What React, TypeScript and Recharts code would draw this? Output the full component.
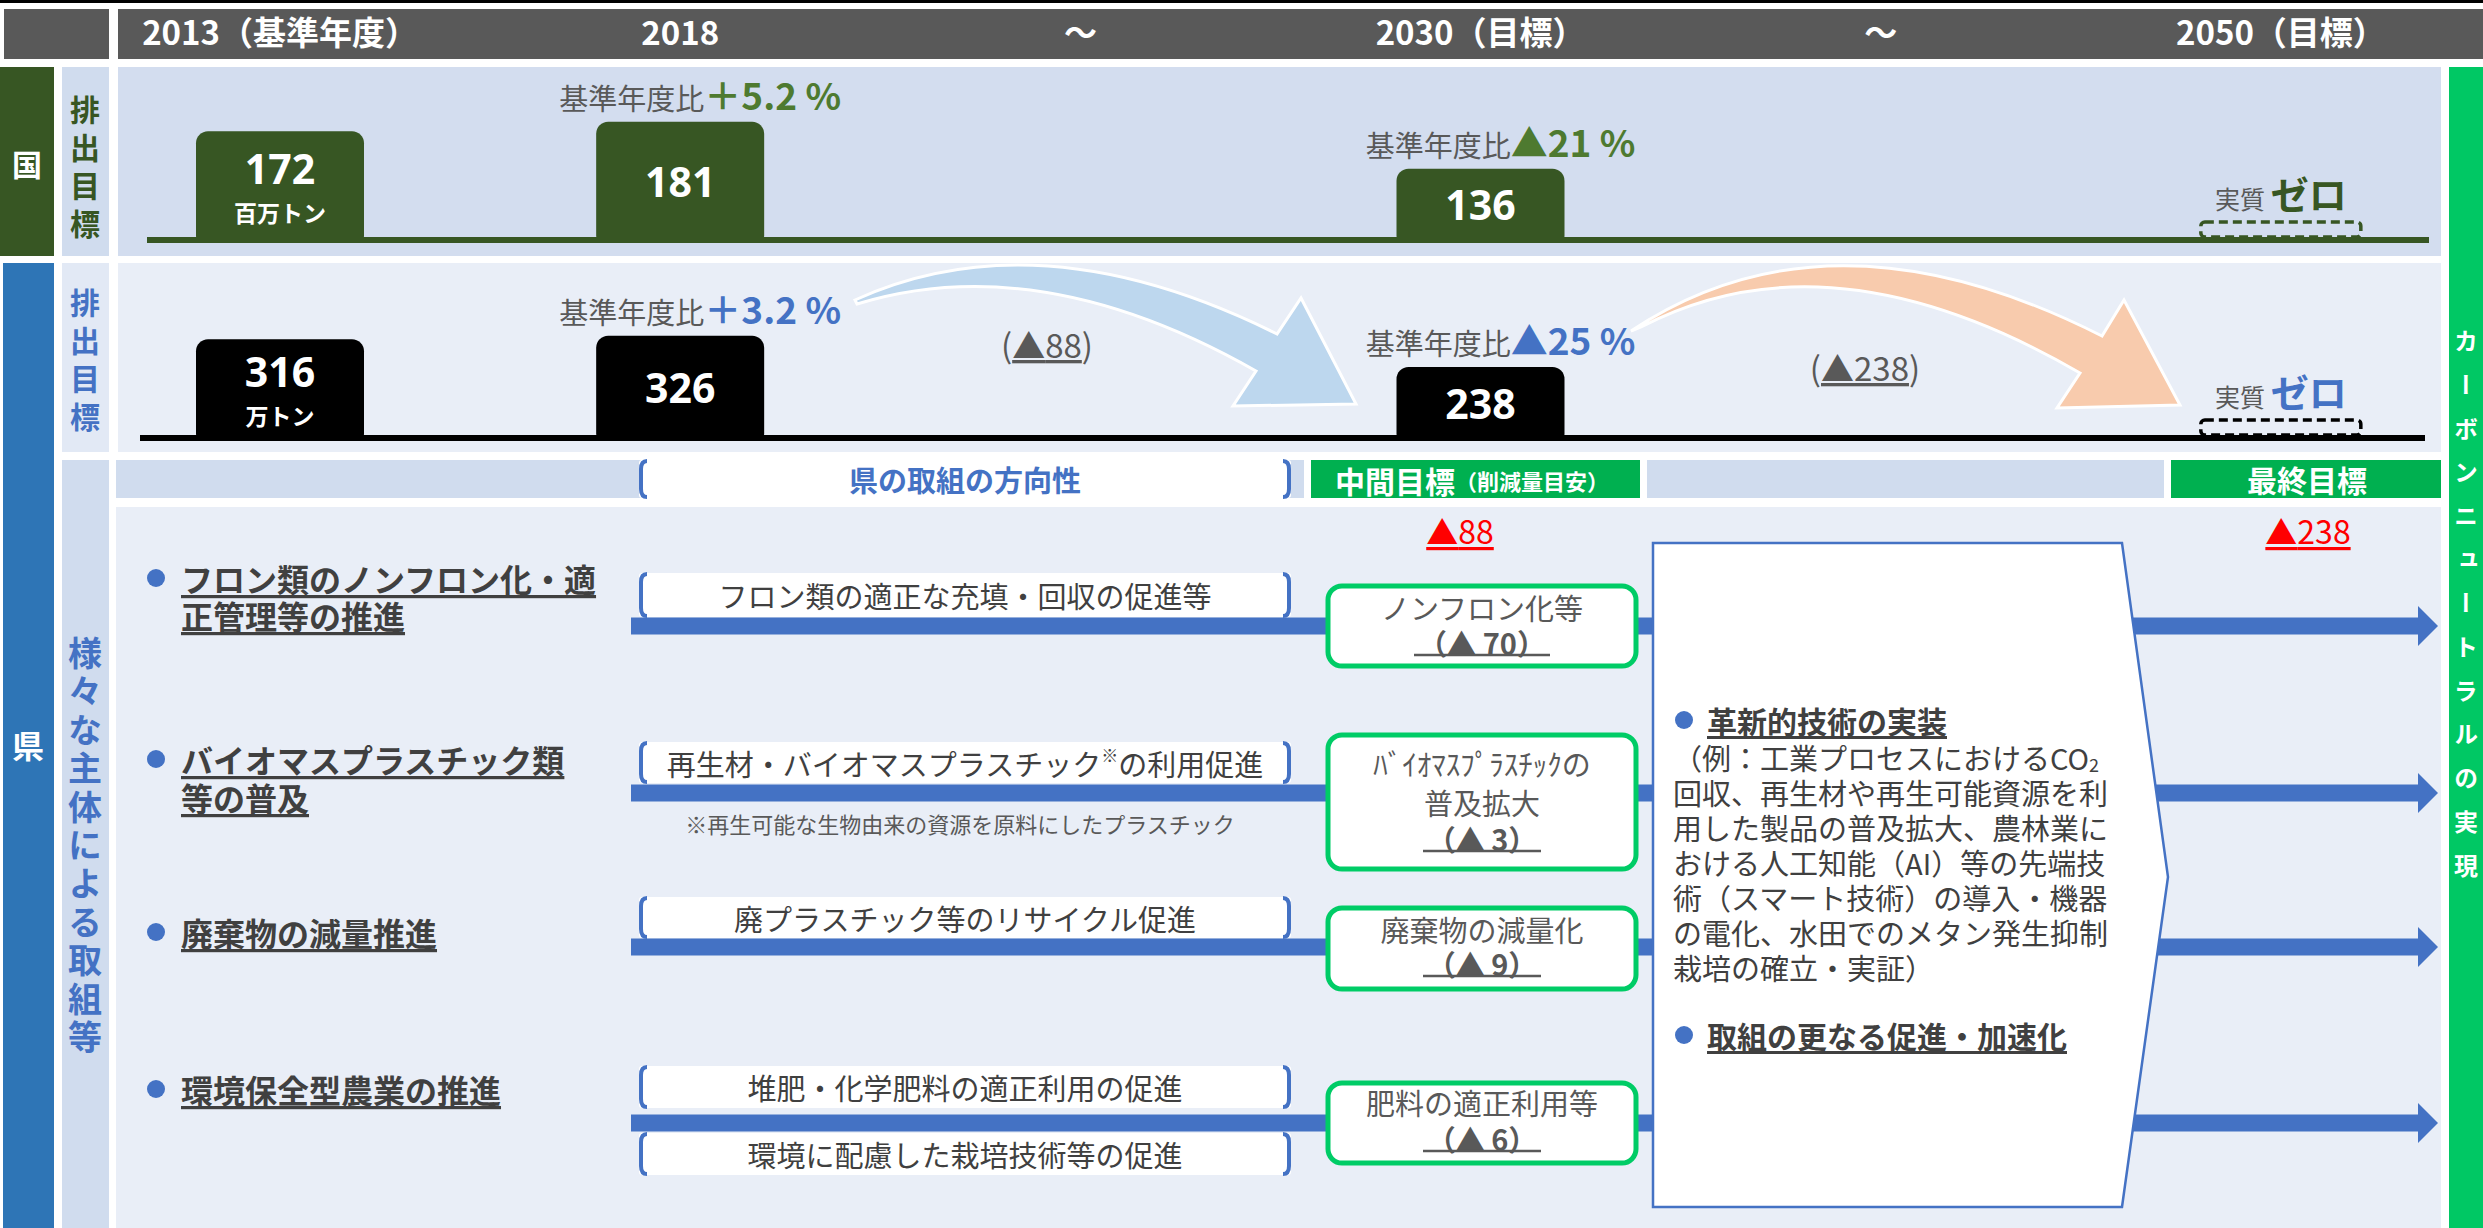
import React from 'react';
import { BarChart, Bar, XAxis, YAxis, LabelList, Rectangle } from 'recharts';

const FONT = '"Noto Sans CJK JP", "Noto Sans", sans-serif';
const NUM_FONT = '"Noto Sans", "Noto Sans CJK JP", sans-serif';
const W = 2483;
const H = 1228;

// ---------- data ----------
const periodKeys = ['2013', '2018', 'gapA', '2030', 'gapB', '2050'];
const periodLabels = ['2013（基準年度）', '2018', '～', '2030（目標）', '～', '2050（目標）'];

const nationalEmissions = [172, 181, null, 136, null, 0]; // 百万トン
const nationalChange = ['', '＋5.2 %', '', '▲21 %', '', ''];
const prefEmissions = [316, 326, null, 238, null, 0]; // 万トン
const prefChange = ['', '＋3.2 %', '', '▲25 %', '', ''];
const unitLabels = ['百万トン', '万トン'];

const reductionToMid = 88;
const reductionToFinal = 238;

const measureTitles = [
  ['フロン類のノンフロン化・適', '正管理等の推進'],
  ['バイオマスプラスチック類', '等の普及'],
  ['廃棄物の減量推進'],
  ['環境保全型農業の推進'],
];
const measureActions = [
  ['フロン類の適正な充填・回収の促進等'],
  ['再生材・バイオマスプラスチック※の利用促進'],
  ['廃プラスチック等のリサイクル促進'],
  ['堆肥・化学肥料の適正利用の促進', '環境に配慮した栽培技術等の促進'],
];
const actionNote = '※再生可能な生物由来の資源を原料にしたプラスチック';
const midTargetNames = [
  ['ノンフロン化等'],
  ['ﾊﾞｲｵﾏｽﾌﾟﾗｽﾁｯｸの', '普及拡大'],
  ['廃棄物の減量化'],
  ['肥料の適正利用等'],
];
const midTargetValues = [70, 3, 9, 6];

const innovationTitle = '革新的技術の実装';
const innovationBody = [
  '（例：工業プロセスにおけるCO_2',
  '回収、再生材や再生可能資源を利',
  '用した製品の普及拡大、農林業に',
  'おける人工知能（AI）等の先端技',
  '術（スマート技術）の導入・機器',
  'の電化、水田でのメタン発生抑制',
  '栽培の確立・実証）',
];
const accelTitle = '取組の更なる促進・加速化';
const sideColumnText = 'カーボンニュートラルの実現';

// ---------- styles / layout ----------
const GRAY = '#595959';
const DARK = '#404040';
const NAT_GREEN = '#375623';
const NAT_ACCENT = '#4E7A30';
const BLUE = '#4472C4';
const PREF_BLUE = '#2E75B6';
const GREEN = '#00B050';
const BRIGHT = '#00C864';
const NAT_BG = '#D3DDEF';
const PREF_BG = '#E9EEF7';
const STRIP_BG = '#D0DCEE';

const rowLayout = [
  { titleY: [578, 615], lineY: 626, boxY: [[573, 617]], goalY: [586, 666], goalTextY: [607, 642] },
  { titleY: [759, 797], lineY: 793, boxY: [[742, 783]], goalY: [735, 869], goalTextY: [763, 802, 838] },
  { titleY: [932], lineY: 947, boxY: [[897, 938]], goalY: [908, 989], goalTextY: [929, 963] },
  { titleY: [1089], lineY: 1123, boxY: [[1066, 1108], [1133, 1175]], goalY: [1083, 1163], goalTextY: [1102, 1138] },
];

const nationalData = periodKeys.map((key, i) => ({ key, value: nationalEmissions[i], change: nationalChange[i] }));
const prefData = periodKeys.map((key, i) => ({ key, value: prefEmissions[i], change: prefChange[i] }));

// ---------- helpers ----------
// vertical (tategaki) text as one text run
const VText = ({ chars, x, y0, step, size, color, weight = 700 }: any) => (
  <text
    x={x}
    y={y0 - size / 2}
    fontSize={size}
    fontWeight={weight}
    fill={color}
    fontFamily={FONT}
    letterSpacing={step - size}
    style={{ writingMode: 'vertical-rl', textOrientation: 'mixed' } as any}
  >
    {chars}
  </text>
);

const BracketBox = ({ x, y, w, h }: any) => (
  <g>
    <rect x={x} y={y} width={w} height={h} fill="#fff" rx={3} />
    <path
      d={`M ${x + 8} ${y + 1} Q ${x + 2} ${y + 1} ${x + 2} ${y + 9} L ${x + 2} ${y + h - 9} Q ${x + 2} ${y + h - 1} ${x + 8} ${y + h - 1}`}
      fill="none"
      stroke={BLUE}
      strokeWidth={4}
    />
    <path
      d={`M ${x + w - 8} ${y + 1} Q ${x + w - 2} ${y + 1} ${x + w - 2} ${y + 9} L ${x + w - 2} ${y + h - 9} Q ${x + w - 2} ${y + h - 1} ${x + w - 8} ${y + h - 1}`}
      fill="none"
      stroke={BLUE}
      strokeWidth={4}
    />
  </g>
);

const withNote = (s: string) => {
  const parts = s.split('※');
  if (parts.length === 1) return s;
  return [
    <tspan key="a">{parts[0]}</tspan>,
    <tspan key="b" fontSize={17} dy={-9}>※</tspan>,
    <tspan key="c" dy={9}>{parts[1]}</tspan>,
  ];
};

const withSub = (s: string) => {
  const parts = s.split('_');
  if (parts.length === 1) return s;
  return [
    <tspan key="a">{parts[0]}</tspan>,
    <tspan key="b" fontSize={18} dy={7}>{parts[1]}</tspan>,
  ];
};

const renderHeaderTick = (props: any) => {
  const i = periodKeys.indexOf(props.payload?.value);
  return (
    <text x={props.x} y={45} textAnchor="middle" fill="#fff" fontSize={33} fontWeight={700} fontFamily={FONT}>
      {periodLabels[i]}
    </text>
  );
};

const makeBarShape = (dashColor: string) => (props: any) => {
  const { x, y, width, height, fill, payload } = props;
  if (payload == null || payload.value == null) return null;
  const base = y + height;
  if (payload.value === 0) {
    return (
      <rect x={x + 4} y={base - 18} width={width - 8} height={15} rx={4} fill="none" stroke={dashColor} strokeWidth={3.5} strokeDasharray="9 5" />
    );
  }
  return <Rectangle x={x} y={y} width={width} height={height} fill={fill} radius={[12, 12, 4, 4]} />;
};

const makeBarLabel = (values: (number | null)[], changes: string[], unit: string, accent: string, zeroColor: string) => (props: any) => {
  const vb = props.viewBox && props.viewBox.width != null ? props.viewBox : props;
  const { x, y, width, height } = vb;
  const value = props.value;
  if (value === null || value === undefined || x == null) return null;
  const index = values.indexOf(value);
  const cx = x + width / 2;
  const base = y + height;
  const top = Math.min(y, base);
  if (value === 0) {
    const boxTop = base - 18;
    return (
      <text x={cx} y={boxTop - 13} textAnchor="middle" fontFamily={FONT}>
        <tspan fontSize={25} fill={GRAY}>実質 </tspan>
        <tspan fontSize={38} fontWeight={700} fill={zeroColor}>ゼロ</tspan>
      </text>
    );
  }
  const mid = (top + base) / 2;
  const hasUnit = index === 0;
  const change = changes[index];
  return (
    <g>
      <text x={cx} y={hasUnit ? mid - 18 : mid} textAnchor="middle" dominantBaseline="central" fill="#fff" fontSize={41} fontWeight={700} fontFamily={NUM_FONT}>
        {value}
      </text>
      {hasUnit && (
        <text x={cx} y={mid + 26} textAnchor="middle" dominantBaseline="central" fill="#fff" fontSize={23} fontWeight={700} fontFamily={FONT}>
          {unit}
        </text>
      )}
      {change && (
        <text x={cx + 20} y={top - 12} textAnchor="middle" fontFamily={FONT}>
          <tspan fontSize={29} fill={GRAY}>基準年度比</tspan>
          <tspan fontSize={37} fontWeight={700} fill={accent}>{change}</tspan>
        </text>
      )}
    </g>
  );
};

// ---------- background ----------
const Background = () => (
  <g fontFamily={FONT}>
    <rect x={0} y={0} width={W} height={3} fill="#000" />
    <rect x={4} y={9} width={105} height={50} fill={GRAY} />
    <rect x={118} y={9} width={W - 118} height={50} fill={GRAY} />

    {/* national */}
    <rect x={0} y={67} width={54} height={189} fill={NAT_GREEN} />
    <text x={27} y={163} textAnchor="middle" dominantBaseline="central" fill="#fff" fontSize={30} fontWeight={700}>国</text>
    <rect x={62} y={67} width={47} height={189} fill={STRIP_BG} />
    <VText chars="排出目標" x={85} y0={110} step={38} size={30} color={NAT_GREEN} />
    <rect x={118} y={67} width={2323} height={189} fill={NAT_BG} />

    {/* prefecture */}
    <rect x={3} y={263} width={51} height={H - 263} fill={PREF_BLUE} />
    <text x={28} y={744} textAnchor="middle" dominantBaseline="central" fill="#fff" fontSize={32} fontWeight={700}>県</text>
    <rect x={62} y={263} width={47} height={189} fill="#E2E9F5" />
    <VText chars="排出目標" x={85} y0={303} step={38} size={30} color={BLUE} />
    <rect x={118} y={263} width={2323} height={189} fill={PREF_BG} />

    {/* curved arrows */}
    <path
      d="M 855,300 Q 1040,216 1277,334 L 1301,298 L 1356,404 L 1233,406 L 1256,371 Q 1040,248 857,304 Z"
      fill="#BDD7EE"
      stroke="#fff"
      strokeWidth={3}
    />
    <path
      d="M 1631,331 Q 1830,198 2102,336 L 2124,300 L 2180,405 L 2057,408 L 2080,373 Q 1830,228 1641,327 Z"
      fill="#F8CBAD"
      stroke="#fff"
      strokeWidth={3}
    />
    <text x={1047} y={358} textAnchor="middle" fontSize={33} fill={GRAY}>
      <tspan>(</tspan>
      <tspan textDecoration="underline">▲{reductionToMid}</tspan>
      <tspan>)</tspan>
    </text>
    <text x={1865} y={381} textAnchor="middle" fontSize={33} fill={GRAY}>
      <tspan>(</tspan>
      <tspan textDecoration="underline">▲{reductionToFinal}</tspan>
      <tspan>)</tspan>
    </text>

    {/* measures section */}
    <rect x={62} y={460} width={47} height={H - 460} fill={STRIP_BG} />
    <VText chars="様々な主体による取組等" x={85} y0={653} step={38.4} size={34} color={BLUE} />
    <rect x={116} y={460} width={1188} height={38} fill={STRIP_BG} />
    <BracketBox x={639} y={460} w={652} h={38} />
    <text x={965} y={479} textAnchor="middle" dominantBaseline="central" fill={BLUE} fontSize={29} fontWeight={700}>県の取組の方向性</text>
    <rect x={1311} y={460} width={329} height={38} fill={GREEN} />
    <text x={1472} y={480} textAnchor="middle" dominantBaseline="central" fill="#fff" fontWeight={700}>
      <tspan fontSize={30}>中間目標</tspan>
      <tspan fontSize={22}>（削減量目安）</tspan>
    </text>
    <rect x={1647} y={460} width={517} height={38} fill={STRIP_BG} />
    <rect x={2171} y={460} width={270} height={38} fill={GREEN} />
    <text x={2307} y={479} textAnchor="middle" dominantBaseline="central" fill="#fff" fontSize={30} fontWeight={700}>最終目標</text>
    <rect x={116} y={507} width={2325} height={H - 507} fill={PREF_BG} />

    <text x={1460} y={530} textAnchor="middle" dominantBaseline="central" fill="#FF0000" fontSize={32} textDecoration="underline">▲{reductionToMid}</text>
    <text x={2308} y={530} textAnchor="middle" dominantBaseline="central" fill="#FF0000" fontSize={32} textDecoration="underline">▲{reductionToFinal}</text>

    {/* arrows for measures */}
    {rowLayout.map((r, i) => (
      <g key={`line${i}`}>
        <rect x={631} y={r.lineY - 8.5} width={1789} height={17} fill={BLUE} />
        <polygon points={`2418,${r.lineY - 20} 2438,${r.lineY} 2418,${r.lineY + 20}`} fill={BLUE} />
      </g>
    ))}

    {/* measure rows */}
    {measureTitles.map((lines, i) => {
      const r = rowLayout[i];
      const vIdx = r.goalTextY.length - 1;
      const half = 50 + 9 * String(midTargetValues[i]).length;
      const uy = r.goalTextY[vIdx] + 13;
      return (
        <g key={`row${i}`}>
          <circle cx={156} cy={r.titleY[0]} r={9} fill={BLUE} />
          <text dominantBaseline="central" fontSize={32} fontWeight={700} fill={DARK} textDecoration="underline">
            {lines.map((t, j) => (
              <tspan key={j} x={181} y={r.titleY[j]}>
                {t}
              </tspan>
            ))}
          </text>
          {measureActions[i].map((a, j) => {
            const [y1, y2] = r.boxY[j];
            return (
              <g key={`a${j}`}>
                <BracketBox x={639} y={y1} w={652} h={y2 - y1} />
                <text x={965} y={(y1 + y2) / 2} textAnchor="middle" dominantBaseline="central" fontSize={29} fill={DARK}>
                  {withNote(a)}
                </text>
              </g>
            );
          })}
          <rect x={1328} y={r.goalY[0]} width={308} height={r.goalY[1] - r.goalY[0]} rx={14} fill="#fff" stroke="#00CC66" strokeWidth={5} />
          <text textAnchor="middle" dominantBaseline="central" fontSize={29} fill={GRAY}>
            {midTargetNames[i].map((t, j) => (
              <tspan key={j} x={1482} y={r.goalTextY[j]}>
                {t}
              </tspan>
            ))}
            <tspan x={1482} y={r.goalTextY[vIdx]} fontWeight={700}>
              （▲ {midTargetValues[i]}）
            </tspan>
          </text>
          <line x1={1482 - half} x2={1482 + half} y1={uy} y2={uy} stroke={GRAY} strokeWidth={2.5} />
        </g>
      );
    })}
    <text x={960} y={823} textAnchor="middle" dominantBaseline="central" fontSize={22} fill={GRAY}>{actionNote}</text>

    {/* innovation box */}
    <polygon points="1653,543 2122,543 2168,877 2122,1207 1653,1207" fill="#fff" stroke={BLUE} strokeWidth={2.5} />
    <circle cx={1684} cy={720} r={9} fill={BLUE} />
    <circle cx={1684} cy={1035} r={9} fill={BLUE} />
    <text dominantBaseline="central" fill={DARK}>
      <tspan x={1707} y={720} fontSize={30} fontWeight={700} textDecoration="underline">{innovationTitle}</tspan>
      {innovationBody.map((t, i) => (
        <tspan key={`ib${i}`} x={1673} y={757 + i * 35} fontSize={29}>
          {withSub(t)}
        </tspan>
      ))}
      <tspan x={1707} y={1035} fontSize={30} fontWeight={700} textDecoration="underline">{accelTitle}</tspan>
    </text>

    {/* right column */}
    <rect x={2449} y={67} width={W - 2449} height={H - 67} fill={BRIGHT} />
    <VText chars={sideColumnText} x={2466} y0={341} step={43.7} size={24} color="#fff" />
  </g>
);

export default function App() {
  return (
    <div style={{ position: 'absolute', left: 0, top: 0, width: W, height: H, overflow: 'hidden', background: '#fff', fontFamily: FONT }}>
      <svg width={W} height={H} style={{ position: 'absolute', left: 0, top: 0 }}>
        <Background />
      </svg>

      <div style={{ position: 'absolute', left: 0, top: 0 }}>
        <BarChart width={W} height={256} data={nationalData} margin={{ top: 9, right: 2, bottom: 16, left: 80 }}>
          <XAxis dataKey="key" orientation="top" height={50} axisLine={false} tickLine={false} interval={0} tick={renderHeaderTick} />
          <YAxis hide domain={[68, 241]} allowDataOverflow />
          <Bar dataKey="value" fill={NAT_GREEN} barSize={168} isAnimationActive={false} shape={makeBarShape(NAT_GREEN)}>
            <LabelList dataKey="value" content={makeBarLabel(nationalEmissions, nationalChange, unitLabels[0], NAT_ACCENT, NAT_GREEN)} />
          </Bar>
        </BarChart>
      </div>

      <div style={{ position: 'absolute', left: 0, top: 263 }}>
        <BarChart width={W} height={189} data={prefData} margin={{ top: 0, right: 2, bottom: 14, left: 80 }}>
          <XAxis dataKey="key" hide interval={0} />
          <YAxis hide domain={[38, 531]} allowDataOverflow />
          <Bar dataKey="value" fill="#000" barSize={168} isAnimationActive={false} shape={makeBarShape('#000')}>
            <LabelList dataKey="value" content={makeBarLabel(prefEmissions, prefChange, unitLabels[1], BLUE, BLUE)} />
          </Bar>
        </BarChart>
      </div>

      <svg width={W} height={H} style={{ position: 'absolute', left: 0, top: 0, pointerEvents: 'none' }}>
        <rect x={147} y={237} width={2282} height={6} fill={NAT_GREEN} />
        <rect x={140} y={435} width={2285} height={6} fill="#000" />
      </svg>
    </div>
  );
}
